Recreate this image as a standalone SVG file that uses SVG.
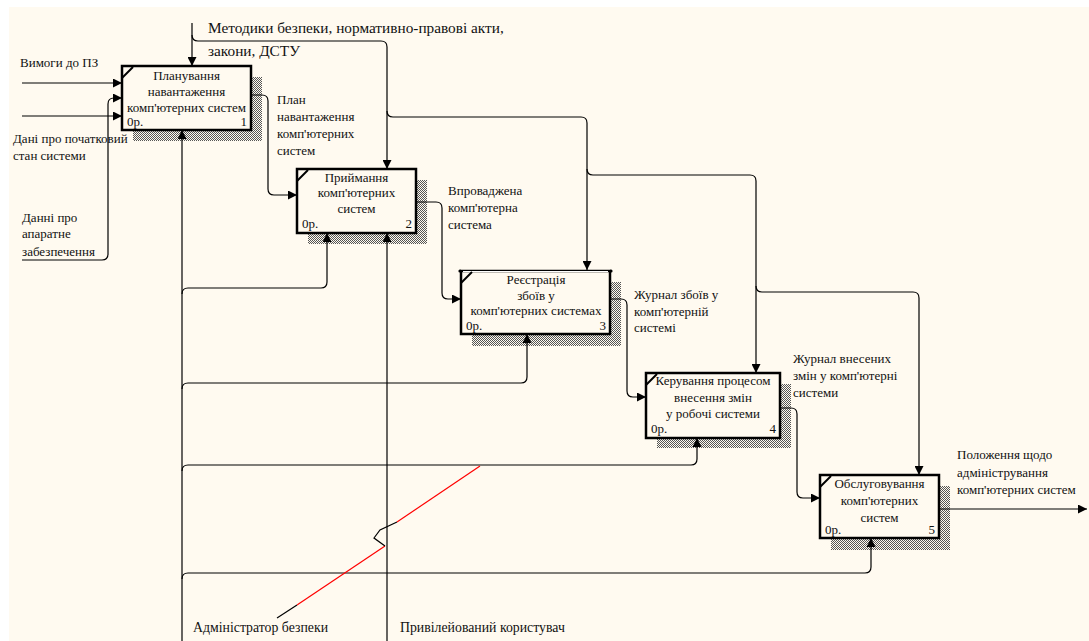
<svg xmlns="http://www.w3.org/2000/svg" width="1089" height="641" viewBox="0 0 1089 641">
  <defs>
    <pattern id="hatch" width="2" height="2" patternUnits="userSpaceOnUse">
      <rect x="0" y="0" width="1" height="1" fill="#555"/>
      <rect x="1" y="1" width="1" height="1" fill="#555"/>
    </pattern>
    <marker id="arrow" viewBox="0 0 10 10" refX="10" refY="5" markerWidth="9" markerHeight="9" markerUnits="userSpaceOnUse" orient="auto">
      <path d="M0,0 L10,5 L0,10 z" fill="#000"/>
    </marker>
    <style>
      text { font-family: "Liberation Serif", "Times New Roman", serif; fill: #111; }
      .lbl { font-size: 13px; }
      .big { font-size: 15.3px; }
      .mech { font-size: 13.8px; }
      .box { fill: #FFFAF0; stroke: #000; stroke-width: 2.5; }
      .shadow { fill: url(#hatch); }
      .tick { stroke: #000; stroke-width: 2; }
      .btxt { font-size: 13px; text-anchor: middle; }
      .num { font-size: 13px; }
      .numr { font-size: 13px; text-anchor: end; }
      .conn path { fill: none; stroke: #000; stroke-width: 1.2; }
      .arr { marker-end: url(#arrow); }
    </style>
  </defs>

  <!-- page -->
  <rect x="0" y="0" width="1089" height="641" fill="#fff"/>
  <rect x="9" y="7" width="1080" height="634" fill="#FFFAF0"/>

  <!-- activity 1 -->
  <g id="node1">
    <rect class="shadow" x="133" y="77" width="129" height="64"/>
    <rect class="box" x="122" y="66" width="129" height="64"/>
    <line class="tick" x1="122" y1="78" x2="133" y2="67"/>
    <text class="btxt" x="186.5" y="80">Планування</text>
    <text class="btxt" x="186.5" y="96">навантаження</text>
    <text class="btxt" x="186.5" y="112">комп'ютерних систем</text>
    <text class="num" x="127" y="126">0р.</text>
    <text class="numr" x="247" y="126">1</text>
  </g>

  <!-- activity 2 -->
  <g id="node2">
    <rect class="shadow" x="308" y="180" width="119" height="64"/>
    <rect class="box" x="297" y="169" width="119" height="64"/>
    <line class="tick" x1="297" y1="181" x2="308" y2="170"/>
    <text class="btxt" x="356.5" y="182">Приймання</text>
    <text class="btxt" x="356.5" y="197">комп'ютерних</text>
    <text class="btxt" x="356.5" y="213">систем</text>
    <text class="num" x="302" y="228">0р.</text>
    <text class="numr" x="412" y="228">2</text>
  </g>

  <!-- activity 3 -->
  <g id="node3">
    <rect class="shadow" x="472" y="282" width="149" height="64"/>
    <rect class="box" x="461" y="271" width="149" height="63"/>
    <line x1="463" y1="271.5" x2="608" y2="271.5" stroke="#fff" stroke-width="1"/>
    <circle cx="460" cy="271" r="1.6" fill="#000"/>
    <circle cx="611" cy="271" r="1.6" fill="#000"/>
    <line class="tick" x1="461" y1="283" x2="472" y2="272"/>
    <text class="btxt" x="536" y="284">Реєстрація</text>
    <text class="btxt" x="536" y="300">збоїв у</text>
    <text class="btxt" x="536" y="315">комп'ютерних системах</text>
    <text class="num" x="466" y="330">0р.</text>
    <text class="numr" x="606" y="330">3</text>
  </g>

  <!-- activity 4 -->
  <g id="node4">
    <rect class="shadow" x="657" y="384" width="134" height="64"/>
    <rect class="box" x="646" y="373" width="134" height="65"/>
    <line class="tick" x1="646" y1="385" x2="657" y2="374"/>
    <text class="btxt" x="713" y="385">Керування процесом</text>
    <text class="btxt" x="713" y="402">внесення змін</text>
    <text class="btxt" x="713" y="418">у робочі системи</text>
    <text class="num" x="651" y="433">0р.</text>
    <text class="numr" x="776" y="433">4</text>
  </g>

  <!-- activity 5 -->
  <g id="node5">
    <rect class="shadow" x="831" y="486" width="119" height="64"/>
    <rect class="box" x="820" y="475" width="119" height="63"/>
    <line class="tick" x1="820" y1="487" x2="831" y2="476"/>
    <text class="btxt" x="879.5" y="488">Обслуговування</text>
    <text class="btxt" x="879.5" y="505">комп'ютерних</text>
    <text class="btxt" x="879.5" y="522">систем</text>
    <text class="num" x="825" y="534">0р.</text>
    <text class="numr" x="935" y="534">5</text>
  </g>

  <!-- connectors, drawn over the box shadows -->
  <g id="connectors" class="conn">
    <!-- controls -->
    <path class="arr" d="M192,23 V66"/>
    <path class="arr" d="M192,35 Q192,41 198,41 H381 Q387,41 387,47 V169"/>
    <path class="arr" d="M387,111 Q387,117 393,117 H581 Q587,117 587,123 V270"/>
    <path class="arr" d="M587,169 Q587,175 593,175 H750 Q756,175 756,181 V373"/>
    <path class="arr" d="M756,286 Q756,292 762,292 H913 Q919,292 919,298 V475"/>
    <!-- inputs -->
    <path class="arr" d="M22,83 H122"/>
    <path class="arr" d="M22,260 H102 Q108,260 108,254 V104 Q108,98 114,98 H122"/>
    <path class="arr" d="M22,116 H122"/>
    <!-- outputs -->
    <path class="arr" d="M251,95 H262 Q268,95 268,101 V189 Q268,195 274,195 H297"/>
    <path class="arr" d="M416,202 H436 Q442,202 442,208 V293 Q442,299 448,299 H461"/>
    <path class="arr" d="M610,299 H621 Q627,299 627,305 V391 Q627,397 633,397 H646"/>
    <path class="arr" d="M780,408 H791 Q797,408 797,414 V492 Q797,498 803,498 H820"/>
    <path class="arr" d="M939,509 H1087"/>
    <!-- mechanisms -->
    <path class="arr" d="M182,641 V130"/>
    <path class="arr" d="M182,294 Q182,288 188,288 H321 Q327,288 327,282 V233"/>
    <path class="arr" d="M182,389 Q182,383 188,383 H521 Q527,383 527,377 V334"/>
    <path class="arr" d="M182,471 Q182,465 188,465 H691 Q697,465 697,459 V438"/>
    <path class="arr" d="M182,579 Q182,573 188,573 H865 Q871,573 871,567 V538"/>
    <path class="arr" d="M387,641 V233"/>
    <!-- squiggle tying the mechanism label to its arrow -->
    <path d="M277,618 L297,605"/>
    <path d="M297,605 L385,546" style="stroke:#f00"/>
    <path d="M385,546 L374,538 L380,530 L397,522"/>
    <path d="M397,522 L480,466" style="stroke:#f00"/>
  </g>

  <!-- arrow labels -->
  <g id="labels">
    <text class="big" x="208" y="33">Методики безпеки, нормативно-правові акти,</text>
    <text class="big" x="208" y="56">закони, ДСТУ</text>
    <text class="lbl" x="20" y="67">Вимоги до ПЗ</text>
    <text class="lbl" x="13" y="143">Дані про початковий</text>
    <text class="lbl" x="13" y="160">стан системи</text>
    <text class="lbl" x="22" y="222">Данні про</text>
    <text class="lbl" x="22" y="238">апаратне</text>
    <text class="lbl" x="22" y="256">забезпечення</text>
    <text class="lbl" x="277" y="104">План</text>
    <text class="lbl" x="277" y="121">навантаження</text>
    <text class="lbl" x="277" y="138">комп'ютерних</text>
    <text class="lbl" x="277" y="155">систем</text>
    <text class="lbl" x="448" y="195">Впроваджена</text>
    <text class="lbl" x="448" y="212">комп'ютерна</text>
    <text class="lbl" x="448" y="229">система</text>
    <text class="lbl" x="634" y="299">Журнал збоїв у</text>
    <text class="lbl" x="634" y="316">комп'ютерній</text>
    <text class="lbl" x="634" y="332">системі</text>
    <text class="lbl" x="793" y="363">Журнал внесених</text>
    <text class="lbl" x="793" y="380">змін у комп'ютерні</text>
    <text class="lbl" x="793" y="397">системи</text>
    <text class="lbl" x="957" y="459">Положення щодо</text>
    <text class="lbl" x="957" y="477">адміністрування</text>
    <text class="lbl" x="957" y="494">комп'ютерних систем</text>
    <text class="mech" x="193" y="632">Адміністратор безпеки</text>
    <text class="mech" x="400" y="632">Привілейований користувач</text>
  </g>
</svg>
